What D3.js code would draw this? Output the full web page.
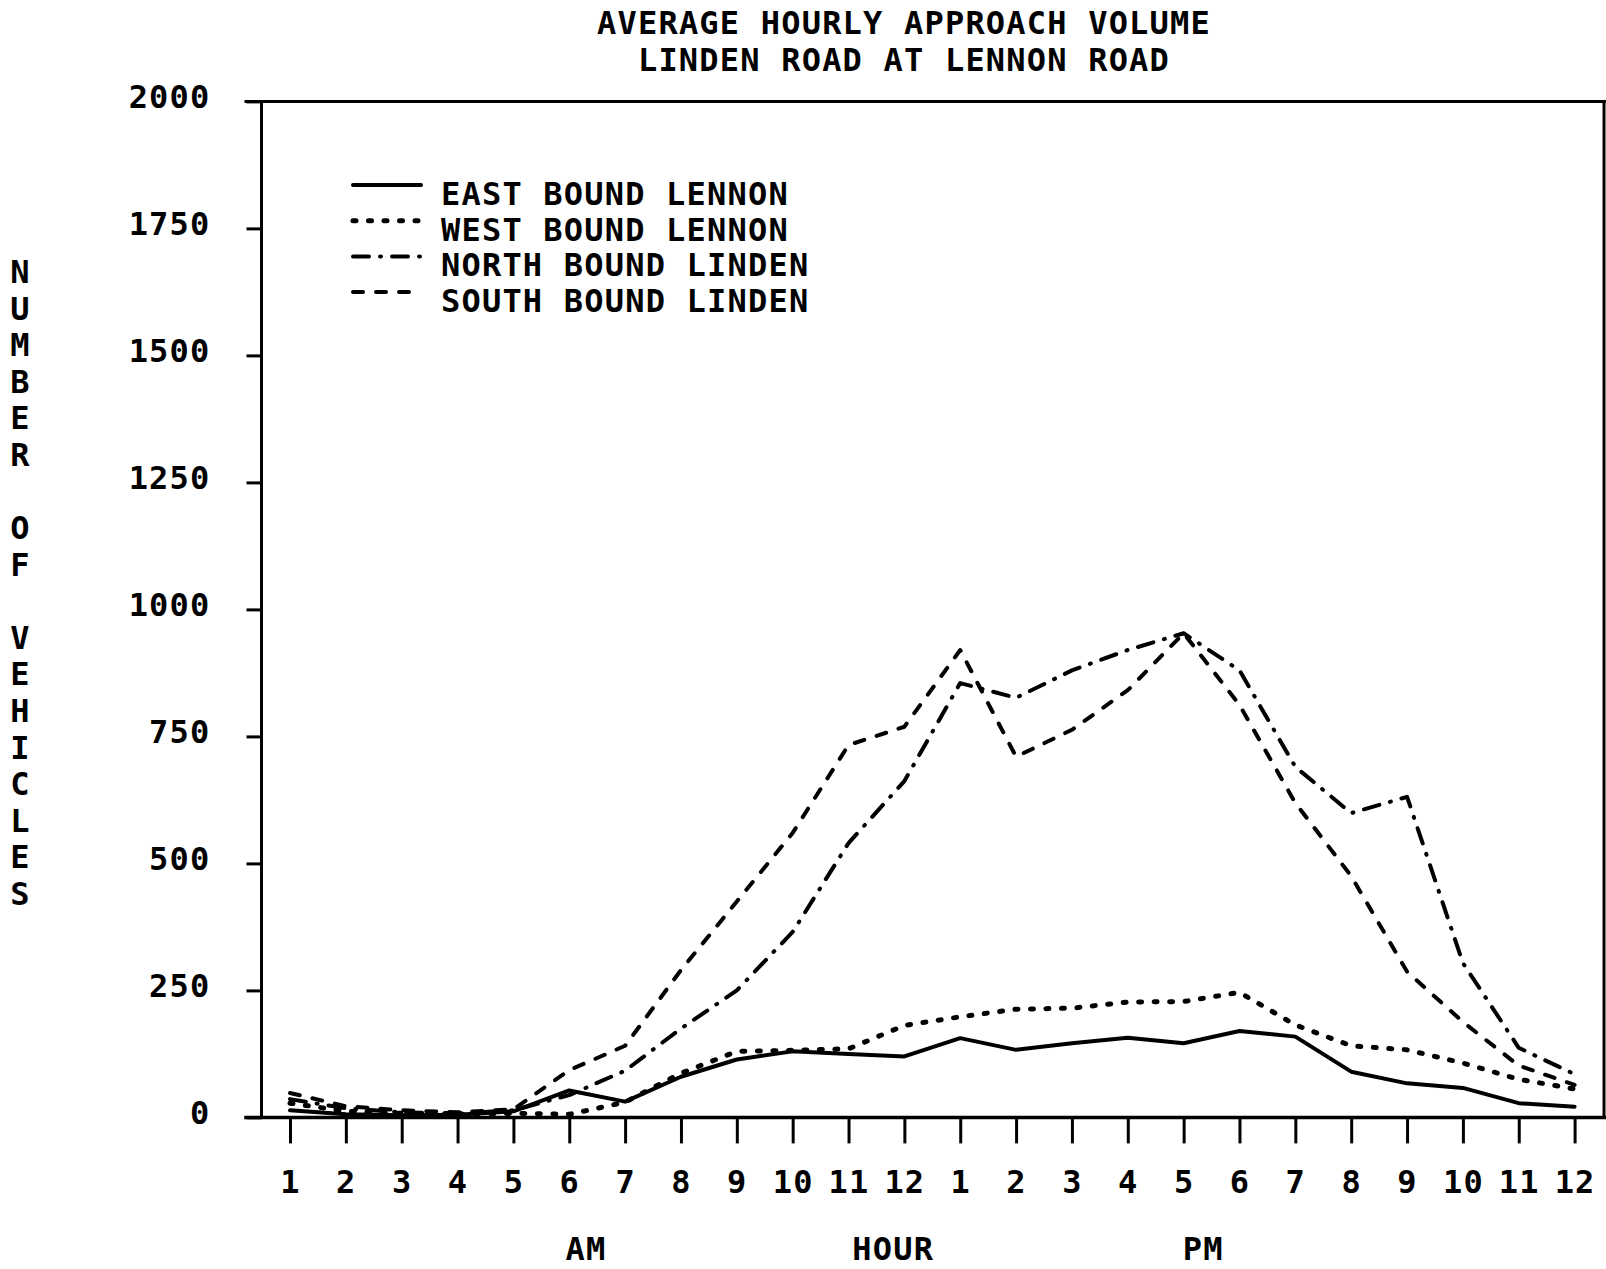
<!DOCTYPE html>
<html>
<head>
<meta charset="utf-8">
<script src="https://cdn.jsdelivr.net/npm/d3@7"></script>
<style>
  html, body { margin: 0; padding: 0; background: #fff; }
  svg { display: block; }
  text { font-family: "DejaVu Sans Mono", "Liberation Mono", monospace; font-weight: bold; font-size: 32px; letter-spacing: 1.2px; fill: #000; }
</style>
</head>
<body>
<script>
// Hour labels along the bottom axis (AM then PM)
const hours = ["1","2","3","4","5","6","7","8","9","10","11","12",
               "1","2","3","4","5","6","7","8","9","10","11","12"];

// Average hourly approach volumes (vehicles) per approach
const eastBoundLennon  = [14, 6, 4, 5, 12, 53, 31, 80, 114, 130, 125, 120,
                          156, 133, 146, 157, 146, 170, 159, 90, 67, 58, 28, 21];
const westBoundLennon  = [28, 12, 8, 6, 8, 6, 30, 87, 130, 132, 135, 181,
                          198, 213, 215, 227, 228, 246, 182, 141, 133, 107, 75, 56];
const northBoundLinden = [36, 18, 10, 8, 14, 44, 92, 175, 250, 365, 540, 662,
                          855, 826, 880, 920, 953, 880, 690, 599, 631, 304, 137, 85];
const southBoundLinden = [48, 22, 14, 10, 16, 93, 141, 290, 425, 560, 733, 769,
                          920, 710, 763, 841, 953, 812, 619, 475, 287, 188, 102, 64];

const yTicks = [0, 250, 500, 750, 1000, 1250, 1500, 1750, 2000];

const titleLines = ["AVERAGE HOURLY APPROACH VOLUME", "LINDEN ROAD AT LENNON ROAD"];
const yAxisTitle = "NUMBER OF VEHICLES";
const seriesNames = ["EAST BOUND LENNON", "WEST BOUND LENNON", "NORTH BOUND LINDEN", "SOUTH BOUND LINDEN"];

const series = [
  { name: seriesNames[0], values: eastBoundLennon,  dash: null,           width: 4 },
  { name: seriesNames[1], values: westBoundLennon,  dash: "3 12.5",       width: 5 },
  { name: seriesNames[2], values: northBoundLinden, dash: "16 11 1 11",   width: 4 },
  { name: seriesNames[3], values: southBoundLinden, dash: "10 13",        width: 4 }
];

const W = 1606, H = 1269;
const frame = { left: 261.5, right: 1604, top: 101.4, bottom: 1117.4, outLeft: 246 };

const svg = d3.select("body").append("svg").attr("width", W).attr("height", H);

const idx = d3.range(1, hours.length + 1);
const x = d3.scaleLinear().domain([1, 24]).range([290, 1574.6]);
const y = d3.scaleLinear().domain([0, 2000]).range([frame.bottom, frame.top]);

// Title
svg.selectAll("text.title").data(titleLines).join("text")
  .attr("class", "title")
  .attr("x", 904)
  .attr("y", (d, i) => 33.5 + i * 37)
  .attr("text-anchor", "middle")
  .text(d => d);

// Frame lines
const g = svg.append("g").attr("stroke", "#000").attr("fill", "none").attr("stroke-linecap", "square");
g.append("line").attr("x1", frame.outLeft).attr("x2", W).attr("y1", frame.top).attr("y2", frame.top).attr("stroke-width", 3);
g.append("line").attr("x1", frame.outLeft).attr("x2", W).attr("y1", frame.bottom).attr("y2", frame.bottom).attr("stroke-width", 3.5);
g.append("line").attr("x1", frame.left).attr("x2", frame.left).attr("y1", frame.top).attr("y2", frame.bottom).attr("stroke-width", 3);
g.append("line").attr("x1", frame.right).attr("x2", frame.right).attr("y1", frame.top).attr("y2", frame.bottom).attr("stroke-width", 3);

// Y axis
const yAxis = svg.append("g")
  .attr("transform", `translate(${frame.left},0)`)
  .call(d3.axisLeft(y).tickValues(yTicks).tickSize(15).tickPadding(36).tickFormat(d3.format("d")));
yAxis.select(".domain").remove();
yAxis.selectAll(".tick line").attr("stroke", "#000").attr("stroke-width", 3);
yAxis.selectAll(".tick text")
  .attr("dy", "6px")
  .attr("fill", "#000");

// X axis
const xAxis = svg.append("g")
  .attr("transform", `translate(0,${frame.bottom})`)
  .call(d3.axisBottom(x).tickValues(idx).tickSize(26).tickFormat(i => hours[i - 1]));
xAxis.select(".domain").remove();
xAxis.selectAll(".tick line").attr("stroke", "#000").attr("stroke-width", 3);
xAxis.selectAll(".tick text")
  .attr("y", 75.5).attr("dy", 0)
  .attr("fill", "#000");

// Let the stylesheet font apply to the axis labels
svg.selectAll("g").filter(function () { return this.hasAttribute("font-size"); })
  .attr("font-size", null).attr("font-family", null);

// X axis captions, placed along the hour scale
const xCaptions = [["AM", 6.3], ["HOUR", 11.8], ["PM", 17.35]];
svg.selectAll("text.xcap").data(xCaptions).join("text")
  .attr("class", "xcap")
  .attr("x", d => x(d[1]))
  .attr("y", 1260)
  .attr("text-anchor", "middle")
  .text(d => d[0]);

// Vertical Y axis title, one letter per row
svg.append("g").selectAll("text").data(yAxisTitle.split("")).join("text")
  .attr("x", 20.5)
  .attr("y", (d, i) => 271.4 + 11.7 + i * 36.57)
  .attr("text-anchor", "middle")
  .text(d => d);

// Series lines
const line = d3.line().x((d, i) => x(i + 1)).y(d => y(d)).curve(d3.curveLinear);
svg.append("g").selectAll("path").data(series).join("path")
  .attr("d", d => line(d.values))
  .attr("fill", "none")
  .attr("stroke", "#000")
  .attr("stroke-width", d => d.width)
  .attr("stroke-linecap", "round")
  .attr("stroke-linejoin", "round")
  .attr("stroke-dasharray", d => d.dash);

// Legend
const leg = svg.append("g").selectAll("g").data(series).join("g")
  .attr("transform", (d, i) => `translate(0,${205 + i * 35.7})`);
leg.append("line")
  .attr("x1", 353).attr("x2", 421).attr("y1", -20).attr("y2", -20)
  .attr("stroke", "#000")
  .attr("stroke-width", d => d.width)
  .attr("stroke-linecap", "round")
  .attr("stroke-dasharray", d => d.dash);
leg.append("text")
  .attr("x", 441)
  .attr("y", 0)
  .text(d => d.name);
</script>
</body>
</html>
